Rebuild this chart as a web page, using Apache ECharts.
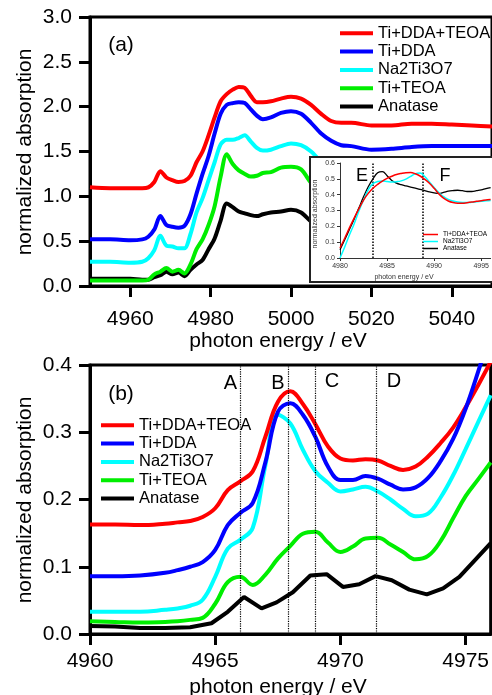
<!DOCTYPE html>
<html>
<head>
<meta charset="utf-8">
<script src="https://cdn.jsdelivr.net/npm/echarts@6/dist/echarts.min.js"></script>
<style>
html,body{margin:0;padding:0;background:#fff;}
#chart{width:492px;height:695px;}
</style>
</head>
<body>
<div id="chart"></div>
<script>
// ---------- Panel (a) data ----------
const energyA = [4950, 4955, 4960, 4963, 4964.5, 4966, 4967.5, 4969, 4970.5, 4972, 4973.5, 4975, 4976.5, 4978, 4979.5, 4981, 4982.5, 4984, 4985.5, 4987, 4988.5, 4990, 4991.5, 4993, 4995, 4997.5, 5000, 5002.5, 5005, 5007.5, 5010, 5012.5, 5015, 5020, 5025, 5030, 5035, 5040, 5045, 5050];
const redA   = [1.10,1.09,1.09,1.09,1.10,1.16,1.28,1.21,1.18,1.16,1.17,1.23,1.38,1.50,1.68,1.88,2.06,2.14,2.19,2.22,2.21,2.12,2.05,2.05,2.06,2.09,2.11,2.09,2.02,1.92,1.84,1.82,1.82,1.79,1.79,1.81,1.81,1.80,1.79,1.78];
const blueA  = [0.52,0.52,0.51,0.52,0.55,0.63,0.78,0.68,0.66,0.65,0.67,0.80,1.03,1.25,1.45,1.70,1.92,2.02,2.04,2.05,2.04,1.97,1.90,1.86,1.88,1.93,1.95,1.92,1.82,1.70,1.62,1.57,1.56,1.52,1.53,1.55,1.56,1.56,1.56,1.56];
const cyanA  = [0.27,0.27,0.26,0.27,0.31,0.40,0.56,0.45,0.44,0.42,0.42,0.58,0.82,0.98,1.18,1.38,1.58,1.63,1.63,1.65,1.68,1.61,1.54,1.51,1.52,1.56,1.59,1.57,1.50,1.38,1.25,1.17,1.14,1.12,1.12,1.13,1.13,1.13,1.13,1.13];
const greenA = [0.06,0.06,0.06,0.06,0.07,0.13,0.16,0.20,0.16,0.18,0.14,0.24,0.41,0.52,0.68,0.89,1.22,1.47,1.36,1.29,1.25,1.22,1.23,1.26,1.27,1.32,1.33,1.30,1.15,1.05,1.00,0.97,0.96,0.95,0.95,0.96,0.96,0.96,0.96,0.96];
const blackA = [0.08,0.08,0.08,0.07,0.07,0.10,0.12,0.16,0.13,0.15,0.11,0.18,0.24,0.29,0.41,0.53,0.73,0.92,0.88,0.83,0.81,0.79,0.78,0.80,0.82,0.83,0.85,0.82,0.72,0.65,0.62,0.60,0.60,0.60,0.60,0.61,0.61,0.61,0.61,0.61];
const ticksXA = [4960, 4980, 5000, 5020, 5040];

// ---------- Panel (b) data ----------
const energyB = [4960, 4961, 4962, 4963, 4963.5, 4964, 4964.5, 4965, 4965.5, 4966, 4966.5, 4967, 4967.5, 4968, 4968.5, 4969, 4969.5, 4970, 4970.5, 4971, 4971.5, 4972, 4972.5, 4973, 4973.5, 4974, 4974.5, 4975, 4975.5, 4976];
const redB   = [0.163,0.163,0.162,0.164,0.166,0.168,0.174,0.187,0.214,0.227,0.242,0.293,0.345,0.361,0.342,0.312,0.279,0.261,0.258,0.260,0.258,0.250,0.244,0.249,0.264,0.284,0.307,0.337,0.370,0.405];
const blueB  = [0.086,0.086,0.087,0.091,0.095,0.100,0.107,0.125,0.162,0.180,0.195,0.255,0.330,0.343,0.326,0.293,0.249,0.229,0.229,0.235,0.231,0.222,0.215,0.218,0.232,0.257,0.290,0.335,0.390,0.450];
const cyanB  = [0.033,0.033,0.033,0.036,0.038,0.042,0.051,0.085,0.127,0.140,0.158,0.250,0.326,0.313,0.274,0.242,0.225,0.212,0.215,0.219,0.212,0.200,0.186,0.175,0.179,0.203,0.236,0.275,0.315,0.355];
const greenB = [0.019,0.018,0.017,0.018,0.019,0.021,0.024,0.045,0.077,0.085,0.073,0.088,0.112,0.131,0.149,0.152,0.136,0.122,0.130,0.142,0.143,0.133,0.122,0.111,0.116,0.138,0.172,0.205,0.230,0.255];
const energyBlackB = [4960, 4961, 4962, 4963, 4964, 4964.85, 4965.5, 4966.15, 4966.85, 4967.45, 4968.1, 4968.8, 4969.45, 4970.1, 4970.75, 4971.4, 4972.05, 4972.75, 4973.45, 4974.1, 4974.75, 4975.4, 4976];
const blackB = [0.012,0.011,0.009,0.009,0.010,0.016,0.033,0.055,0.038,0.047,0.062,0.087,0.089,0.070,0.074,0.086,0.080,0.066,0.059,0.068,0.085,0.111,0.135];
const ticksXB = [4960, 4965, 4970, 4975];
const featureLinesB = [4966.0, 4967.9, 4969.0, 4971.45];
const featureLabelsB = ['A', 'B', 'C', 'D'];

// ---------- Inset data ----------
const energyInset = [4980,4980.5,4981,4981.5,4982,4982.5,4983,4983.5,4984,4984.5,4985,4985.5,4986,4986.5,4987,4987.5,4988,4988.5,4989,4989.5,4990,4990.5,4991,4991.5,4992,4992.5,4993,4993.5,4994,4994.5,4995,4995.5,4996];
const redInset   = [0.063,0.125,0.19,0.252,0.31,0.366,0.408,0.44,0.465,0.486,0.503,0.516,0.527,0.534,0.539,0.54,0.532,0.518,0.497,0.472,0.44,0.405,0.378,0.36,0.35,0.346,0.346,0.349,0.353,0.358,0.362,0.366,0.37];
const cyanInset  = [0.0,0.07,0.145,0.215,0.295,0.366,0.43,0.47,0.483,0.486,0.483,0.48,0.482,0.487,0.498,0.515,0.532,0.537,0.515,0.48,0.445,0.413,0.387,0.37,0.36,0.354,0.351,0.35,0.352,0.355,0.358,0.361,0.363];
const blackInset = [0.052,0.115,0.18,0.245,0.315,0.386,0.45,0.5,0.538,0.545,0.52,0.49,0.473,0.463,0.455,0.448,0.441,0.434,0.426,0.418,0.412,0.408,0.414,0.422,0.426,0.428,0.425,0.42,0.42,0.425,0.43,0.438,0.445];
const ticksXInset = [4980, 4985, 4990, 4995];
const featureLinesInset = [4983.45, 4988.75];

const names = ['Ti+DDA+TEOA', 'Ti+DDA', 'Na2Ti3O7', 'Ti+TEOA', 'Anatase'];
const colors = {'Ti+DDA+TEOA':'#ff0000','Ti+DDA':'#0000ff','Na2Ti3O7':'#00ffff','Ti+TEOA':'#00ee00','Anatase':'#000000'};

const FONT = '"Liberation Sans", Arial, Helvetica, sans-serif';
const pairs = (xs, ys) => xs.map((x, i) => [x, ys[i]]);

function mainX(gridIndex, min, max, ticks, margin) {
  return {
    type: 'value', gridIndex, min, max,
    axisLine: {show: true, onZero: false, lineStyle: {color: '#000', width: 3}},
    axisTick: {show: true, inside: false, length: 11, lineStyle: {color: '#000', width: 3}, customValues: ticks},
    axisLabel: {show: true, customValues: ticks, margin, color: '#000', fontSize: 21, fontFamily: FONT, formatter: v => String(v)},
    splitLine: {show: false}
  };
}
function mainY(gridIndex, min, max, interval) {
  return {
    type: 'value', gridIndex, min, max, interval,
    axisLine: {show: true, onZero: false, lineStyle: {color: '#000', width: 3}},
    axisTick: {show: true, inside: false, length: 11, lineStyle: {color: '#000', width: 3}},
    axisLabel: {show: true, margin: 18, color: '#000', fontSize: 21, fontFamily: FONT, formatter: v => v.toFixed(1)},
    splitLine: {show: false}
  };
}
function lineSeries(name, xIdx, data, width, smooth, z, extra) {
  return Object.assign({
    type: 'line', name, xAxisIndex: xIdx, yAxisIndex: xIdx, data,
    showSymbol: false, symbol: 'none', smooth, z,
    lineStyle: {color: colors[name], width},
    itemStyle: {color: colors[name]},
    emphasis: {disabled: true}, silent: true
  }, extra || {});
}

const seriesA = [
  lineSeries('Anatase', 0, pairs(energyA, blackA), 4, 0.3, 2),
  lineSeries('Ti+TEOA', 0, pairs(energyA, greenA), 4, 0.3, 2),
  lineSeries('Na2Ti3O7', 0, pairs(energyA, cyanA), 4, 0.3, 2),
  lineSeries('Ti+DDA', 0, pairs(energyA, blueA), 4, 0.3, 2),
  lineSeries('Ti+DDA+TEOA', 0, pairs(energyA, redA), 4, 0.3, 2)
];
const seriesB = [
  lineSeries('Anatase', 1, pairs(energyBlackB, blackB), 4, false, 2, {
    markLine: {silent: true, symbol: 'none', animation: false, label: {show: false},
      lineStyle: {type: 'dotted', color: '#000', width: 1.2},
      data: featureLinesB.map(v => ({xAxis: v}))}
  }),
  lineSeries('Ti+TEOA', 1, pairs(energyB, greenB), 4, 0.4, 2),
  lineSeries('Na2Ti3O7', 1, pairs(energyB, cyanB), 4, 0.4, 2),
  lineSeries('Ti+DDA+TEOA', 1, pairs(energyB, redB), 4, 0.4, 2),
  lineSeries('Ti+DDA', 1, pairs(energyB, blueB), 4, 0.4, 2)
];
const seriesInset = [
  lineSeries('Anatase', 2, pairs(energyInset, blackInset), 1.3, 0.4, 20, {
    markLine: {silent: true, symbol: 'none', animation: false, label: {show: false}, z: 20,
      lineStyle: {type: 'dotted', color: '#000', width: 1.5},
      data: featureLinesInset.map(v => ({xAxis: v}))}
  }),
  lineSeries('Na2Ti3O7', 2, pairs(energyInset, cyanInset), 1.5, 0.4, 20),
  lineSeries('Ti+DDA+TEOA', 2, pairs(energyInset, redInset), 1.5, 0.4, 20)
];

const chart = echarts.init(document.getElementById('chart'), null, {renderer: 'canvas'});
const option = {
  animation: false,
  backgroundColor: '#fff',
  grid: [
    {left: 90, top: 17, right: -7, height: 269, show: true, borderColor: '#000', borderWidth: 3, backgroundColor: 'transparent'},
    {left: 90, top: 365, right: -8, height: 269, show: true, borderColor: '#000', borderWidth: 3, backgroundColor: 'transparent'},
    {left: 340, top: 163, right: 0, height: 95, show: false}
  ],
  xAxis: [
    mainX(0, 4950, 5050, ticksXA, 23),
    mainX(1, 4960, 4976, ticksXB, 17),
    {
      type: 'value', gridIndex: 2, min: 4980, max: 4996, z: 20,
      axisLine: {show: true, onZero: false, lineStyle: {color: '#333', width: 1}},
      axisTick: {show: true, length: 3, customValues: ticksXInset, lineStyle: {color: '#333', width: 1}},
      axisLabel: {customValues: ticksXInset, margin: 5, fontSize: 7, color: '#333', fontFamily: FONT, formatter: v => String(v)},
      splitLine: {show: false}
    }
  ],
  yAxis: [
    mainY(0, 0, 3, 0.5),
    mainY(1, 0, 0.4, 0.1),
    {
      type: 'value', gridIndex: 2, min: 0, max: 0.6, interval: 0.1, z: 20,
      axisLine: {show: true, onZero: false, lineStyle: {color: '#333', width: 1}},
      axisTick: {show: true, length: 3, lineStyle: {color: '#333', width: 1}},
      axisLabel: {margin: 5, fontSize: 7, color: '#333', fontFamily: FONT, formatter: v => v.toFixed(1)},
      splitLine: {show: false}
    }
  ],
  legend: [
    {
      data: names, orient: 'vertical', left: 340, top: 24, itemWidth: 33, itemHeight: 4, itemGap: 0, padding: 0,
      icon: 'rect', selectedMode: false, z: 6,
      textStyle: {fontSize: 16.5, fontFamily: FONT, color: '#000', lineHeight: 18.35}
    },
    {
      data: names, orient: 'vertical', left: 101, top: 416, itemWidth: 33, itemHeight: 4, itemGap: 0, padding: 0,
      icon: 'rect', selectedMode: false, z: 6,
      textStyle: {fontSize: 16.5, fontFamily: FONT, color: '#000', lineHeight: 18.35}
    },
    {
      data: ['Ti+DDA+TEOA', 'Na2Ti3O7', 'Anatase'], orient: 'vertical', left: 423, top: 231,
      itemWidth: 15, itemHeight: 1.5, itemGap: 0, icon: 'rect', selectedMode: false, z: 25, padding: 0,
      textStyle: {fontSize: 6.5, fontFamily: FONT, color: '#000', lineHeight: 6.2}
    }
  ],
  graphic: {
    elements: [
      {type: 'rect', z: 10, shape: {x: 310, y: 157, width: 200, height: 125},
        style: {fill: '#fff', stroke: '#222', lineWidth: 2}},
      {type: 'text', z: 30, x: 25, y: 152, rotation: Math.PI / 2,
        style: {text: 'normalized absorption', x: 0, y: 0, textAlign: 'center', textVerticalAlign: 'middle', font: '21px ' + FONT, fill: '#000'}},
      {type: 'text', z: 30, x: 25, y: 500, rotation: Math.PI / 2,
        style: {text: 'normalized absorption', x: 0, y: 0, textAlign: 'center', textVerticalAlign: 'middle', font: '21px ' + FONT, fill: '#000'}},
      {type: 'text', z: 5, x: 278, y: 341,
        style: {text: 'photon energy / eV', textAlign: 'center', textVerticalAlign: 'middle', font: '21px ' + FONT, fill: '#000'}},
      {type: 'text', z: 5, x: 278, y: 687,
        style: {text: 'photon energy / eV', textAlign: 'center', textVerticalAlign: 'middle', font: '21px ' + FONT, fill: '#000'}},
      {type: 'text', z: 5, x: 121, y: 45,
        style: {text: '(a)', textAlign: 'center', textVerticalAlign: 'middle', font: '21px ' + FONT, fill: '#000'}},
      {type: 'text', z: 5, x: 121, y: 394,
        style: {text: '(b)', textAlign: 'center', textVerticalAlign: 'middle', font: '21px ' + FONT, fill: '#000'}},
      {type: 'text', z: 5, x: 230.5, y: 383,
        style: {text: featureLabelsB[0], textAlign: 'center', textVerticalAlign: 'middle', font: '20px ' + FONT, fill: '#000'}},
      {type: 'text', z: 5, x: 278, y: 383,
        style: {text: featureLabelsB[1], textAlign: 'center', textVerticalAlign: 'middle', font: '20px ' + FONT, fill: '#000'}},
      {type: 'text', z: 5, x: 332, y: 381,
        style: {text: featureLabelsB[2], textAlign: 'center', textVerticalAlign: 'middle', font: '20px ' + FONT, fill: '#000'}},
      {type: 'text', z: 5, x: 394, y: 381,
        style: {text: featureLabelsB[3], textAlign: 'center', textVerticalAlign: 'middle', font: '20px ' + FONT, fill: '#000'}},
      {type: 'text', z: 30, x: 362, y: 176,
        style: {text: 'E', textAlign: 'center', textVerticalAlign: 'middle', font: '18px ' + FONT, fill: '#000'}},
      {type: 'text', z: 30, x: 445, y: 176,
        style: {text: 'F', textAlign: 'center', textVerticalAlign: 'middle', font: '18px ' + FONT, fill: '#000'}},
      {type: 'text', z: 30, x: 315, y: 214, rotation: Math.PI / 2,
        style: {text: 'normalized absorption', x: 0, y: 0, textAlign: 'center', textVerticalAlign: 'middle', font: '7px ' + FONT, fill: '#333'}},
      {type: 'text', z: 30, x: 404, y: 277,
        style: {text: 'photon energy / eV', textAlign: 'center', textVerticalAlign: 'middle', font: '7px ' + FONT, fill: '#333'}}
    ]
  },
  series: [].concat(seriesA, seriesB, seriesInset)
};
chart.setOption(option);
</script>
</body>
</html>
